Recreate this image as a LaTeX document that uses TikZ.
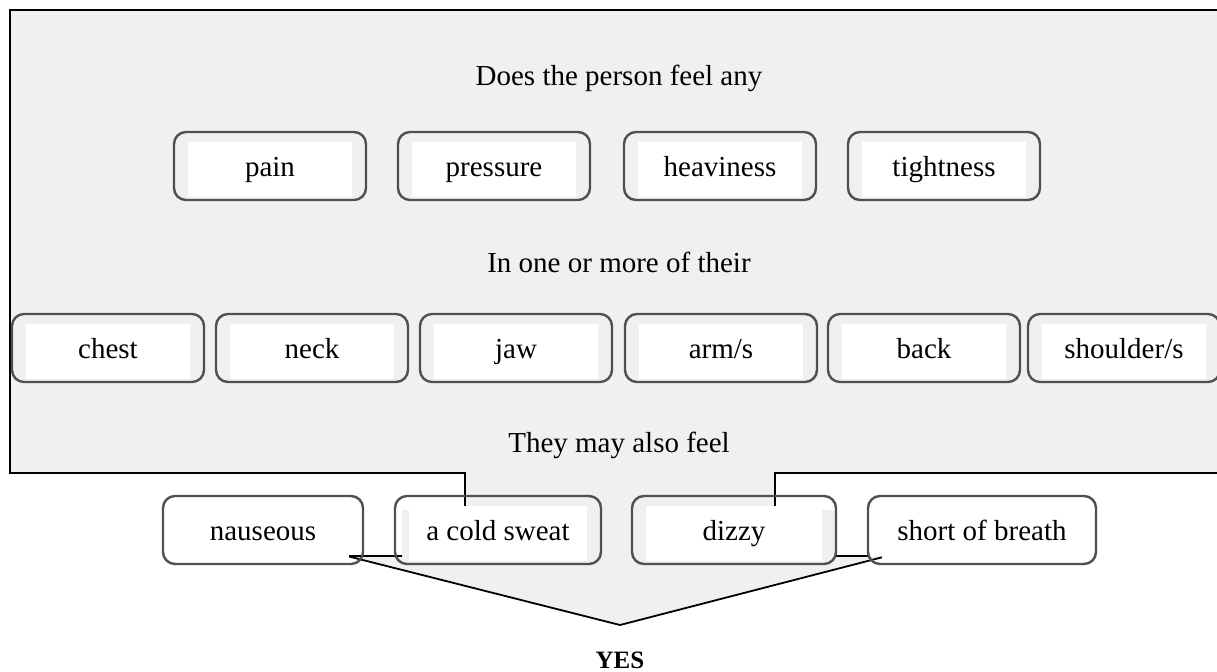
\documentclass[tikz,border=0pt]{standalone}
\usepackage{fontspec}
\setmainfont{Liberation Serif}
\usetikzlibrary{positioning}
\definecolor{ChkPanel}{RGB}{240,240,240}
\definecolor{ChkEdge}{RGB}{80,80,80}
\tikzset{
  chk/box/.style={
    draw=ChkEdge,
    line width=1.2pt,
    rounded corners=6pt,
    minimum width=96pt,
    minimum height=34pt,
    inner sep=0pt,
    text height=2.3ex,
    text depth=0ex,
    align=center,
    font=\fontsize{14.5}{17}\selectfont,
    path picture={
      \fill[white,sharp corners] ([xshift=7pt,yshift=1.5pt]path picture bounding box.south west)
        rectangle ([xshift=-7pt,yshift=-5pt]path picture bounding box.north east);
    }
  },
  chk/prompt/.style={font=\fontsize{14.5}{17}\selectfont, align=center},
  chk/answer/.style={font=\fontsize{12.5}{15}\selectfont\bfseries},
  chk/rule/.style={draw=black, line width=1.3pt},
  chk/thin/.style={draw=black, line width=0.9pt}
}

\begin{document}
\begin{tikzpicture}[x=0.5pt,y=-0.5pt]
  \useasboundingbox (0,0) rectangle (1217,671);
  % panel outline
  \coordinate (panelNE) at (1217,10);
  \coordinate (panelNW) at (10,10);
  \coordinate (panelSW) at (10,473);
  \coordinate (panelSE) at (1217,473);
  \coordinate (notchL) at (465,473);
  \coordinate (notchR) at (775,473);
  \coordinate (sweatIn) at (465,510);
  \coordinate (dizzyIn) at (775,510);
  \coordinate (chevL) at (347,556);
  \coordinate (chevLin) at (402,556);
  \coordinate (chevR) at (887,556);
  \coordinate (chevRin) at (835,556);
  \coordinate (yesTip) at (620,625);
  \fill[ChkPanel] (panelNW) -- (panelNE) -- (panelSE) -- (notchR) -- (dizzyIn)
    -- (835,510) -- (chevRin) -- (chevR) -- (yesTip) -- (chevL) -- (chevLin)
    -- (402,510) -- (sweatIn) -- (notchL) -- (panelSW) -- cycle;
  \draw[chk/rule] (panelNE) -- (panelNW) -- (panelSW) -- (notchL) -- (sweatIn);
  \draw[chk/rule] (panelSE) -- (notchR) -- (dizzyIn);
  \draw[chk/thin] (chevLin) -- (chevL) -- (yesTip) -- (chevR);
  \draw[chk/thin] (chevRin) -- (870,556);

  \node[chk/prompt] (qAny) at (619,78) {Does the person feel any};
  \node[chk/box] (pain) at (270,166) {pain};
  \node[chk/box] (pressure) at (494,166) {pressure};
  \node[chk/box] (heaviness) at (720,166) {heaviness};
  \node[chk/box] (tightness) at (944,166) {tightness};

  \node[chk/prompt] (qWhere) at (619,262) {In one or more of their};
  \node[chk/box] (chest) at (108,348) {chest};
  \node[chk/box] (neck) at (312,348) {neck};
  \node[chk/box] (jaw) at (516,348) {jaw};
  \node[chk/box] (arms) at (721,348) {arm/s};
  \node[chk/box] (back) at (924,348) {back};
  \node[chk/box] (shoulders) at (1124,348) {shoulder/s};

  \node[chk/prompt] (qAlso) at (619,445) {They may also feel};
  \node[chk/box,minimum width=100pt] (nauseous) at (263,530) {nauseous};
  \node[chk/box,minimum width=103pt] (sweat) at (498,530) {a cold sweat};
  \node[chk/box,minimum width=102pt] (dizzy) at (734,530) {dizzy};
  \node[chk/box,minimum width=114pt] (breath) at (982,530) {short of breath};

  \node[chk/answer] (yes) at (620,660) {YES};
\end{tikzpicture}
\end{document}
